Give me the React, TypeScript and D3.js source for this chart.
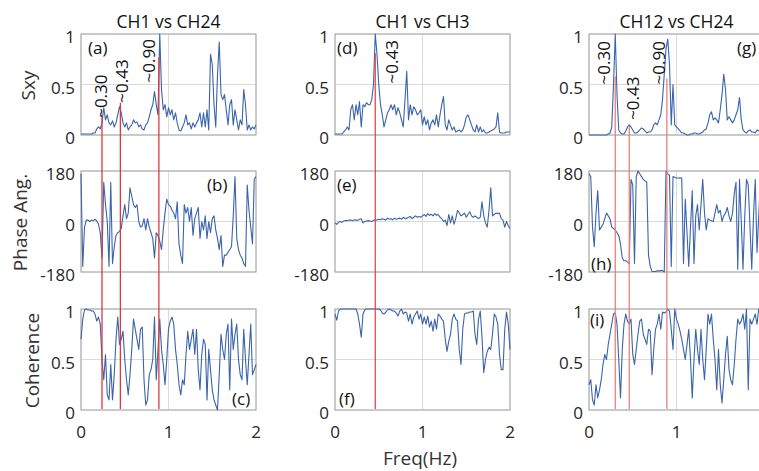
import React, { useRef, useEffect } from 'react';
import * as d3 from 'd3';

// frequency grid: one sample every 0.02 Hz from 0 to 2 Hz
const freqStep = 0.02;

const titles = ['CH1 vs CH24', 'CH1 vs CH3', 'CH12 vs CH24'];
const rowLabels = ['Sxy', 'Phase Ang.', 'Coherence'];
const panelLetters = [['(a)', '(b)', '(c)'], ['(d)', '(e)', '(f)'], ['(g)', '(h)', '(i)']];
const xTicks = [0, 1, 2];
const sxyTicks = [0, 0.5, 1];
const phaseTicks = [-180, 0, 180];
const cohTicks = [0, 0.5, 1];

// CH1 vs CH24
const sxyA = [0.01, 0.01, 0.01, 0.01, 0.01, 0.01, 0.01, 0.02, 0.02, 0.06, 0.08, 0.06, 0.12, 0.27, 0.15, 0.2, 0.12, 0.1, 0.14, 0.08,
  0.12, 0.2, 0.28, 0.22, 0.12, 0.08, 0.12, 0.05, 0.08, 0.1, 0.15, 0.12, 0.13, 0.08, 0.1, 0.06, 0.05, 0.1, 0.12, 0.18,
  0.25, 0.3, 0.43, 0.3, 0.2, 1.0, 0.45, 0.25, 0.3, 0.18, 0.27, 0.2, 0.25, 0.15, 0.22, 0.12, 0.05, 0.04, 0.08, 0.12,
  0.2, 0.1, 0.12, 0.06, 0.12, 0.08, 0.12, 0.15, 0.22, 0.08, 0.22, 0.08, 0.25, 0.05, 0.8, 0.7, 0.3, 0.08, 0.6, 0.92,
  0.4, 0.35, 0.4, 0.25, 0.1, 0.3, 0.35, 0.1, 0.25, 0.15, 0.05, 0.15, 0.1, 0.45, 0.3, 0.05, 0.1, 0.05, 0.08, 0.06, 0.1];
const phaseA = [170, -160, -20, 5, 5, 0, 5, 3, 8, 2, -10, -40, -130, 140, 60, 0, -160, 140, -150, -90,
  -50, -40, -35, -25, 20, 60, 10, 30, 120, 90, 60, 50, 60, 0, -20, -15, 10, -30, 10, -20,
  -40, -60, -130, -40, -50, -70, -100, -30, 30, 80, 60, 55, 40, 30, 10, 70, -80, -120, -150, 60,
  30, 50, 0, 50, -50, 10, 30, 50, -60, 0, -30, 20, -60, 0, -40, 10, 20, -30, -60, -100,
  -50, -160, -120, -120, -110, -100, -90, 20, 160, -60, -100, -120, -130, -150, -160, 130, 40, -20, -80, 150, 160];
const cohA = [0.7, 0.9, 0.99, 1.0, 0.99, 0.99, 0.98, 0.98, 0.95, 0.88, 0.92, 0.85, 0.5, 0.3, 0.55, 0.15, 0.1, 0.45, 0.1, 0.35,
  0.7, 0.92, 0.65, 0.7, 0.78, 0.5, 0.3, 0.15, 0.35, 0.6, 0.9, 0.8, 0.7, 0.6, 0.8, 0.82, 0.3, 0.05, 0.1, 0.35,
  0.4, 0.5, 0.92, 0.3, 0.6, 0.9, 0.6, 0.45, 0.25, 0.5, 0.8, 0.88, 0.92, 0.85, 0.6, 0.45, 0.25, 0.15, 0.3, 0.25,
  0.55, 0.78, 0.6, 0.7, 0.8, 0.55, 0.8, 0.4, 0.2, 0.55, 0.7, 0.65, 0.1, 0.6, 0.4, 0.2, 0.1, 0.05, 0.0, 0.35,
  0.75, 0.6, 0.5, 0.75, 0.85, 0.2, 0.9, 0.6, 0.75, 0.85, 0.5, 0.35, 0.3, 0.8, 0.5, 0.25, 0.55, 0.85, 0.35, 0.4, 0.45];

// CH1 vs CH3
const sxyB = [0.01, 0.01, 0.01, 0.01, 0.01, 0.03, 0.05, 0.08, 0.05, 0.25, 0.3, 0.15, 0.3, 0.2, 0.33, 0.08, 0.3, 0.28, 0.32, 0.3,
  0.3, 0.35, 0.5, 1.0, 0.8, 0.5, 0.3, 0.2, 0.08, 0.15, 0.22, 0.25, 0.3, 0.25, 0.3, 0.2, 0.27, 0.22, 0.15, 0.08,
  0.35, 0.63, 0.15, 0.3, 0.2, 0.28, 0.25, 0.2, 0.22, 0.25, 0.1, 0.18, 0.1, 0.15, 0.05, 0.12, 0.15, 0.1, 0.2, 0.08,
  0.2, 0.3, 0.38, 0.1, 0.05, 0.15, 0.1, 0.05, 0.08, 0.03, 0.04, 0.05, 0.03, 0.05, 0.1, 0.18, 0.2, 0.15, 0.1, 0.05,
  0.03, 0.1, 0.03, 0.08, 0.03, 0.05, 0.02, 0.02, 0.03, 0.04, 0.05, 0.06, 0.08, 0.22, 0.03, 0.02, 0.02, 0.02, 0.03, 0.03, 0.03];
const phaseB = [-5, -10, -3, 0, -3, 2, 3, 3, 5, 5, 3, 6, 5, 4, 8, 10, -5, 0, 2, 3,
  2, 0, 4, 6, 5, 8, 6, 10, 8, 5, 12, 8, 10, 6, 12, 8, 10, 12, 8, 15,
  10, 12, 15, 18, 10, 15, 20, 15, 18, 15, 20, 25, 18, 28, 22, 26, 20, 28, 22, 25,
  15, 10, 0, 5, -15, 25, -5, 20, -10, 10, 40, 30, 20, 25, 30, 15, 25, 35, 20, 15,
  20, 15, 10, 15, 70, 20, -5, -20, 40, 120, 20, 25, 30, 28, 30, 10, 5, -20, 0, -15, -25];
const cohB = [0.95, 0.89, 0.98, 1.0, 1.0, 1.0, 1.0, 1.0, 1.0, 1.0, 1.0, 1.0, 1.0, 0.95, 0.85, 0.72, 0.95, 0.99, 1.0, 1.0,
  1.0, 1.0, 1.0, 1.0, 1.0, 1.0, 0.99, 0.96, 0.95, 0.97, 0.99, 1.0, 0.99, 0.98, 0.98, 0.96, 0.93, 0.98, 1.0, 0.95,
  0.97, 0.96, 0.88, 0.95, 0.85, 0.92, 0.95, 0.98, 0.9, 0.95, 0.85, 0.92, 0.85, 0.93, 0.82, 0.88, 0.78, 0.9, 0.8, 0.95,
  0.93, 0.9, 0.88, 0.7, 0.58, 0.68, 0.75, 0.9, 0.95, 0.9, 0.88, 0.6, 0.45, 0.8, 0.95, 0.96, 0.96, 0.97, 0.97, 0.98,
  0.75, 0.65, 0.9, 0.98, 0.72, 0.37, 0.5, 0.58, 0.62, 0.6, 0.75, 0.95, 0.92, 0.85, 0.55, 0.4, 0.4, 0.8, 0.97, 0.85, 0.6];

// CH12 vs CH24
const sxyC = [0, 0, 0, 0, 0, 0, 0, 0, 0, 0, 0, 0.01, 0.02, 0.08, 0.5, 1.0, 0.4, 0.05, 0.02, 0.01,
  0.01, 0.04, 0.08, 0.1, 0.08, 0.05, 0.02, 0.02, 0.03, 0.05, 0.07, 0.06, 0.04, 0.02, 0.03, 0.03, 0.05, 0.1, 0.12, 0.1,
  0.15, 0.2, 0.35, 0.6, 0.85, 0.95, 0.7, 0.1, 0.5, 0.1, 0.08, 0.06, 0.04, 0.02, 0.02, 0.01, 0, 0, 0.01, 0.01,
  0.02, 0.02, 0.01, 0.01, 0.02, 0.03, 0.05, 0.06, 0.12, 0.2, 0.23, 0.15, 0.17, 0.15, 0.12, 0.25, 0.4, 0.6, 0.45, 0.15,
  0.18, 0.15, 0.12, 0.15, 0.2, 0.25, 0.37, 0.15, 0.05, 0.03, 0.02, 0.04, 0.05, 0.03, 0.03, 0.02, 0.05, 0.04, 0.03, 0.05, 0.04];
const phaseC = [170, 160, -20, -90, 30, 110, -30, -20, -10, 10, 30, 20, 10, -20, -25, -30, -40, -50, -80, -130,
  -140, -140, -145, -150, 150, 130, -150, 160, 180, 170, 160, 150, 145, 140, -120, -160, -178, -178, -178, -176,
  -176, -175, -175, -180, 180, 170, 165, -160, 160, 158, 155, 155, 156, 155, -150, 80, -40, -160, -20, 110,
  -150, 20, 60, -30, 60, 150, 30, -30, 10, 5, 3, 0, 30, 60, 30, 40, 0, 20, 30, 50,
  20, 0, 30, 100, 140, -170, 150, 0, -170, 20, 150, 130, -20, -170, 20, 150, -110, 20, 150, 100, 140];
const cohC = [0.25, 0.3, 0.1, 0.05, 0.25, 0.12, 0.2, 0.3, 0.45, 0.55, 0.5, 0.65, 0.75, 0.85, 0.95, 0.96, 0.85, 0.5, 0.12, 0.6,
  0.85, 0.95, 0.88, 0.85, 0.9, 0.55, 0.45, 0.6, 0.75, 0.88, 0.9, 0.75, 0.7, 0.65, 0.8, 0.78, 0.35, 0.6, 0.8, 0.85,
  0.95, 0.8, 0.97, 0.96, 0.97, 1.0, 0.98, 0.8, 0.6, 1.0, 0.9, 0.85, 0.78, 0.7, 0.6, 0.5, 0.65, 0.8, 0.5, 0.12,
  0.5, 0.8, 0.6, 0.45, 0.8, 0.5, 0.3, 0.6, 0.95, 0.85, 0.95, 0.7, 0.5, 0.2, 0.6, 0.25, 0.07, 0.3, 0.55, 0.73,
  0.4, 0.3, 0.25, 0.45, 0.7, 0.9, 0.85, 0.88, 0.95, 0.8, 1.0, 0.2, 0.9, 0.85, 0.9, 0.95, 0.85, 1.0, 0.95, 0.9, 0.85];

// marked peak frequencies (red lines) and the Sxy level each line starts from
const peakFreqA = [0.24, 0.45, 0.89];
const peakTopA = [0.2, 0.32, 0.77];
const peakFreqB = [0.46];
const peakTopB = [0.81];
const peakFreqC = [0.3, 0.46, 0.89];
const peakTopC = [0.58, 0.09, 0.56];

// peak annotations: text, freq and Sxy level where the (rotated) text starts
const peakTextA = ['~0.30', '~0.43', '~0.90'];
const peakTextFreqA = [0.22, 0.46, 0.77];
const peakTextLevelA = [0.17, 0.32, 0.52];
const peakTextB = ['~0.43'];
const peakTextFreqB = [0.64];
const peakTextLevelB = [0.51];
const peakTextC = ['~0.30', '~0.43', '~0.90'];
const peakTextFreqC = [0.17, 0.5, 0.79];
const peakTextLevelC = [0.5, 0.15, 0.5];

const FONT = '"Open Sans", sans-serif';
const TEXT = '#262626';

const App = () => {
  const svgRef = useRef(null);

  useEffect(() => {
    const W = 759, H = 471;
    const svg = d3.select(svgRef.current).attr('width', W).attr('height', H);
    svg.selectAll('*').remove();

    const colLeft = [81, 335, 589];
    const plotW = 175;
    const rowTop = [34, 171, 309];
    const plotH = 101;

    const cols = [
      { sxy: sxyA, phase: phaseA, coh: cohA, pf: peakFreqA, pt: peakTopA, tx: peakTextA, tf: peakTextFreqA, tl: peakTextLevelA, red: '#dc3a3a' },
      { sxy: sxyB, phase: phaseB, coh: cohB, pf: peakFreqB, pt: peakTopB, tx: peakTextB, tf: peakTextFreqB, tl: peakTextLevelB, red: '#e04848' },
      { sxy: sxyC, phase: phaseC, coh: cohC, pf: peakFreqC, pt: peakTopC, tx: peakTextC, tf: peakTextFreqC, tl: peakTextLevelC, red: '#e8807a' },
    ];

    // letter offsets from panel's top-left corner (x, baseline)
    const letterPos = [
      [[7, 20], [126, 20], [151, 96]],
      [[2, 20], [2, 20], [4, 96]],
      [[148, 20], [2, 99], [1, 17]],
    ];

    cols.forEach((col, ci) => {
      const x = d3.scaleLinear().domain([0, 2]).range([colLeft[ci], colLeft[ci] + plotW]);
      const rows = [
        { vals: col.sxy, domain: [0, 1], ticks: sxyTicks, fmt: (d) => String(d) },
        { vals: col.phase, domain: [-180, 180], ticks: phaseTicks, fmt: (d) => String(d) },
        { vals: col.coh, domain: [0, 1], ticks: cohTicks, fmt: (d) => String(d) },
      ];
      const yScales = [];

      rows.forEach((row, ri) => {
        const y = d3.scaleLinear().domain(row.domain).range([rowTop[ri] + plotH, rowTop[ri]]);
        yScales.push(y);
        const g = svg.append('g');

        // grid
        g.selectAll('.gx').data(xTicks).join('line')
          .attr('x1', (d) => x(d)).attr('x2', (d) => x(d))
          .attr('y1', rowTop[ri]).attr('y2', rowTop[ri] + plotH)
          .attr('stroke', '#dadada').attr('stroke-width', 1);
        g.selectAll('.gy').data(row.ticks).join('line')
          .attr('x1', x(0)).attr('x2', x(2))
          .attr('y1', (d) => y(d)).attr('y2', (d) => y(d))
          .attr('stroke', '#dadada').attr('stroke-width', 1);

        // box
        g.append('rect')
          .attr('x', x(0)).attr('y', rowTop[ri])
          .attr('width', plotW).attr('height', plotH)
          .attr('fill', 'none').attr('stroke', '#a6a6a6').attr('stroke-width', 1);

        // y tick labels
        g.selectAll('.ty').data(row.ticks).join('text')
          .attr('x', x(0) - 6).attr('y', (d) => y(d) + 9)
          .attr('text-anchor', 'end')
          .attr('font-family', FONT).attr('font-size', 17).attr('fill', TEXT)
          .text(row.fmt);

        // data line
        const line = d3.line()
          .x((d, i) => x(i * freqStep))
          .y((d) => y(d));
        g.append('path')
          .datum(row.vals)
          .attr('d', line)
          .attr('fill', 'none')
          .attr('stroke', '#3a64ab')
          .attr('stroke-width', 1.1)
          .attr('stroke-linejoin', 'round');

        // panel letter
        g.append('text')
          .attr('x', x(0) + letterPos[ci][ri][0])
          .attr('y', rowTop[ri] + letterPos[ci][ri][1])
          .attr('font-family', FONT).attr('font-size', 17).attr('fill', '#111')
          .text(panelLetters[ci][ri]);

        if (ci === 0) {
          svg.append('text')
            .attr('transform', `translate(${[35, 27, 39][ri]},${rowTop[ri] + plotH / 2 + 1}) rotate(-90)`)
            .attr('text-anchor', 'middle')
            .attr('font-family', FONT).attr('font-size', 19).attr('fill', '#333')
            .text(rowLabels[ri]);
        }
      });

      // x tick labels under bottom row
      svg.selectAll(`.tx${ci}`).data(xTicks).join('text')
        .attr('x', (d) => x(d)).attr('y', 438)
        .attr('text-anchor', 'middle')
        .attr('font-family', FONT).attr('font-size', 17).attr('fill', TEXT)
        .text((d) => String(d));

      // title
      svg.append('text')
        .attr('x', x(1)).attr('y', 28)
        .attr('text-anchor', 'middle')
        .attr('font-family', FONT).attr('font-size', 17.5).attr('fill', '#111')
        .text(titles[ci]);

      // red peak lines spanning all three rows
      svg.selectAll(`.red${ci}`).data(col.pf).join('line')
        .attr('x1', (d) => x(d)).attr('x2', (d) => x(d))
        .attr('y1', (d, i) => yScales[0](col.pt[i]))
        .attr('y2', yScales[2](0) - 1)
        .attr('stroke', col.red).attr('stroke-width', 1.3);

      // peak annotations
      svg.selectAll(`.pk${ci}`).data(col.tx).join('text')
        .attr('transform', (d, i) => `translate(${x(col.tf[i])},${yScales[0](col.tl[i])}) rotate(-90)`)
        .attr('dominant-baseline', 'central')
        .attr('font-family', FONT).attr('font-size', 17).attr('fill', '#111')
        .text((d) => d);
    });

    svg.append('text')
      .attr('x', 420).attr('y', 465)
      .attr('text-anchor', 'middle')
      .attr('font-family', FONT).attr('font-size', 19).attr('fill', '#333')
      .text('Freq(Hz)');
  }, []);

  return (
    <svg ref={svgRef} style={{ position: 'absolute', left: 0, top: 0, background: '#fff' }}></svg>
  );
};

export default App;
